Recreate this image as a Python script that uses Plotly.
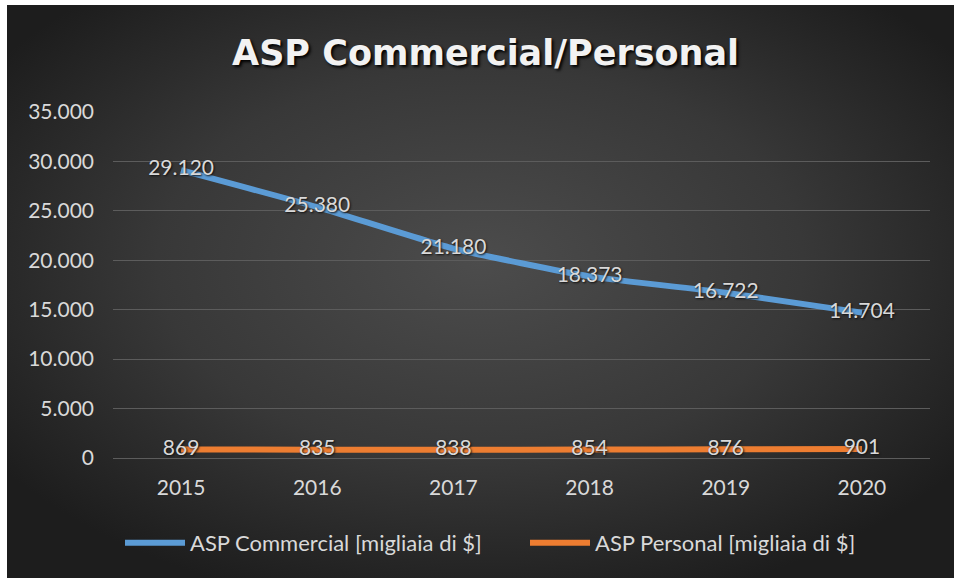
import base64
import plotly.graph_objects as go

# --- data -------------------------------------------------------------
years = ["2015", "2016", "2017", "2018", "2019", "2020"]
asp_commercial = [29120, 25380, 21180, 18373, 16722, 14704]
asp_personal = [869, 835, 838, 854, 876, 901]

series_names = ["ASP Commercial [migliaia di $]", "ASP Personal [migliaia di $]"]
title_text = "ASP Commercial/Personal"
y_ticks = [0, 5000, 10000, 15000, 20000, 25000, 30000, 35000]

W, H = 954, 578
FONT = "Lato"
LABEL_COLOR = "#d9d9d9"

# dark radial-gradient chart background, built as an inline SVG
svg = (
    "<svg xmlns='http://www.w3.org/2000/svg' width='947' height='573' "
    "preserveAspectRatio='none' viewBox='0 0 947 573'>"
    "<defs><radialGradient id='g' cx='50%' cy='45%' r='62%'>"
    "<stop offset='0' stop-color='#4c4c4c'/>"
    "<stop offset='0.55' stop-color='#383838'/>"
    "<stop offset='1' stop-color='#1d1d1d'/>"
    "</radialGradient></defs>"
    "<rect width='947' height='573' fill='url(#g)'/></svg>"
)
bg_src = "data:image/svg+xml;base64," + base64.b64encode(svg.encode()).decode()

label_font = dict(family=FONT, size=21, color=LABEL_COLOR,
                  shadow="1px 1px 2px #111")

fig = go.Figure()

fig.add_trace(go.Scatter(
    x=years, y=asp_commercial, name=series_names[0],
    mode="lines+text",
    line=dict(color="#5b9bd5", width=6, shape="spline", smoothing=0.5),
    text=asp_commercial, texttemplate="%{y:,d}",
    textposition="middle center", textfont=label_font,
    hoverinfo="skip",
))
fig.add_trace(go.Scatter(
    x=years, y=asp_personal, name=series_names[1],
    mode="lines+text",
    line=dict(color="#ed7d31", width=6, shape="spline", smoothing=0.5),
    text=asp_personal, texttemplate="%{y:,d}",
    textposition="middle center", textfont=label_font,
    hoverinfo="skip",
))

fig.update_layout(
    width=W, height=H,
    margin=dict(l=0, r=0, t=0, b=0, pad=0, autoexpand=False),
    paper_bgcolor="white",
    plot_bgcolor="rgba(0,0,0,0)",
    separators=",.",
    images=[dict(
        source=bg_src, xref="paper", yref="paper",
        x=7 / W, y=1 - 5 / H, xanchor="left", yanchor="top",
        sizex=1 - 7 / W, sizey=1 - 5 / H, sizing="stretch",
        layer="below",
    )],
    title=dict(
        text=title_text, x=0.509, xanchor="center",
        y=1 - 53 / H, yanchor="middle", yref="paper",
        font=dict(family="DejaVu Sans", size=35, color="#f2f2f2",
                  weight="bold", shadow="2px 2px 3px #000"),
    ),
    xaxis=dict(
        type="category", domain=[113 / W, 930 / W],
        range=[-0.5, 5.5], showgrid=False, zeroline=False,
        showline=False, ticks="", ticklabelstandoff=15,
        tickfont=dict(family=FONT, size=21, color=LABEL_COLOR),
    ),
    yaxis=dict(
        domain=[(H - 458) / H, (H - 112) / H],
        range=[0, 35000], tickvals=y_ticks, tickformat=",d",
        showgrid=True, gridcolor="#5c5c5c", gridwidth=1,
        zeroline=True, zerolinecolor="#5c5c5c", zerolinewidth=1,
        showline=False, ticks="", ticklabelstandoff=18,
        tickfont=dict(family=FONT, size=21, color=LABEL_COLOR),
    ),
    legend=dict(
        orientation="h", x=120 / W, xanchor="left",
        y=1 - 543 / H, yanchor="middle",
        font=dict(family=FONT, size=22, color=LABEL_COLOR),
        bgcolor="rgba(0,0,0,0)", itemwidth=60,
        entrywidth=330, entrywidthmode="pixels",
    ),
    showlegend=True,
)

fig.write_html("out.html")
